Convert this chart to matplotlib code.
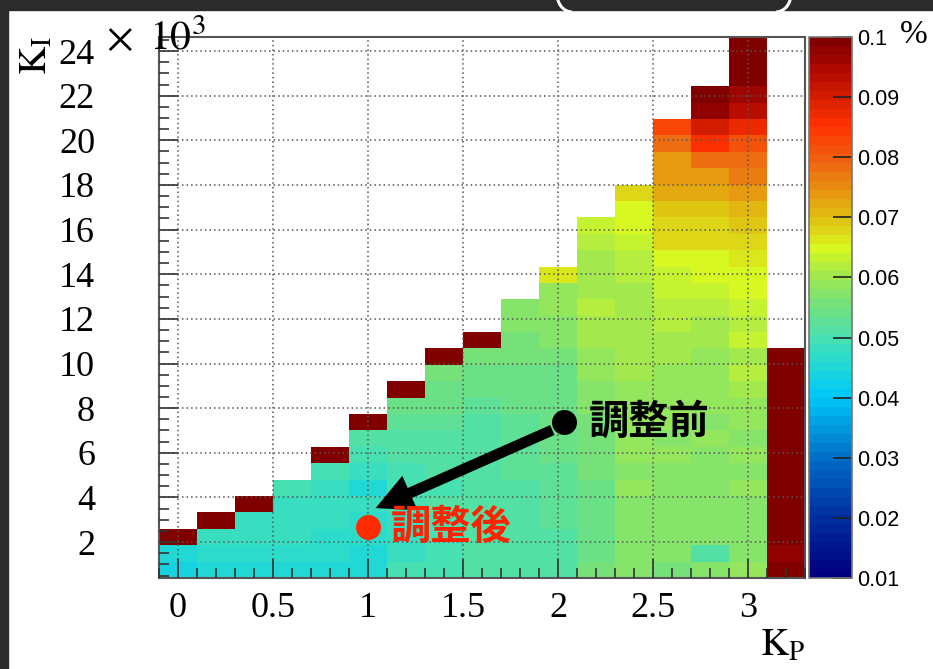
import numpy as np
import matplotlib
matplotlib.use('Agg')
import matplotlib.pyplot as plt
from matplotlib.colors import LinearSegmentedColormap, Normalize
from matplotlib.patches import Rectangle, Arc
from matplotlib.ticker import MultipleLocator

plt.rcParams['mathtext.fontset'] = 'stix'

# KP bin centres, KI range (x10^3)
kp = [0.0, 0.2, 0.4, 0.6, 0.8, 1.0, 1.2, 1.4, 1.6, 1.8, 2.0, 2.2, 2.4, 2.6, 2.8, 3.0, 3.2]
ki_lo, ki_hi, n_ki = 0.39, 24.63, 33

# values per KP column, bottom -> top, in units of 0.001 %
c00 = [44, 46, 120]
c02 = [45, 47, 48, 120]
c04 = [46, 47, 48, 48, 120]
c06 = [46, 47, 48, 48, 49, 50]
c08 = [46, 47, 47, 48, 48, 49, 50, 120]
c10 = [45, 46, 47, 47, 48, 46, 48, 50, 52, 120]
c12 = [50, 49, 49, 49, 50, 50, 50, 51, 52, 53, 55, 120]
c14 = [50, 50, 50, 50, 51, 50, 51, 51, 52, 53, 54, 55, 56, 120]
c16 = [51, 51, 51, 51, 51, 51, 52, 52, 52, 52, 53, 54, 55, 56, 120]
c18 = [51, 51, 52, 52, 52, 52, 53, 53, 53, 53, 54, 54, 55, 56, 56, 57, 57]
c20 = [52, 52, 52, 53, 53, 53, 53, 54, 54, 54, 54, 54, 55, 56, 57, 57, 58, 58, 66]
c22 = [56, 55, 55, 55, 55, 55, 56, 56, 56, 56, 57, 57, 58, 59, 61, 60, 62, 60, 61, 61, 62, 63]
c24 = [57, 57, 57, 57, 57, 58, 57, 58, 58, 58, 58, 59, 60, 60, 60, 61, 61, 61, 62, 62, 63, 64, 65, 68]
c26 = [56, 57, 57, 57, 57, 57, 57, 58, 57, 58, 58, 58, 59, 60, 61, 62, 62, 63, 63, 65, 67, 68, 69,
       72, 73, 74, 78, 83]
c28 = [57, 52, 57, 57, 57, 57, 57, 57, 58, 57, 58, 58, 59, 59, 61, 61, 62, 63, 65, 65, 67, 67, 69,
       72, 73, 78, 85, 90, 97, 102]
c30 = [58, 57, 57, 57, 57, 58, 57, 58, 57, 58, 59, 60, 62, 61, 63, 62, 63, 65, 65, 66, 68, 69, 71,
       74, 76, 78, 81, 87, 93, 96, 105, 110, 110]
c32 = [110, 97, 110, 110, 110, 110, 110, 110, 110, 110, 110, 110, 110, 110]
columns = [c00, c02, c04, c06, c08, c10, c12, c14, c16, c18, c20, c22, c24, c26, c28, c30, c32]

before = (2.03, 7.38)
after = (1.0, 2.67)

# build the 2D histogram
z = np.full((n_ki, len(kp)), np.nan)
for j, col in enumerate(columns):
    z[:len(col), j] = np.array(col) / 1000.0

x_edges = np.append(np.array(kp) - 0.1, kp[-1] + 0.1)
y_edges = np.linspace(ki_lo, ki_hi, n_ki + 1)

# ROOT-like rainbow palette
stops = [(0.0, '#000080'), (0.111, '#0030a0'), (0.222, '#0070c8'), (0.333, '#00c8f8'),
         (0.389, '#20d8d8'), (0.444, '#48e0b0'), (0.5, '#70e080'), (0.556, '#a0e850'),
         (0.611, '#d8f820'), (0.667, '#e0c010'), (0.722, '#e89010'), (0.778, '#f06010'),
         (0.844, '#ff3000'), (0.889, '#d82000'), (0.944, '#b00800'), (1.0, '#800000')]
cmap = LinearSegmentedColormap.from_list('rootrainbow', stops, N=60)
cmap.set_over('#800000')
norm = Normalize(0.01, 0.1)

fig = plt.figure(figsize=(9.33, 6.69), dpi=100)
fig.patch.set_facecolor('white')

ax = fig.add_axes([159 / 933, 91 / 669, 646 / 933, 541 / 669])
mesh = ax.pcolormesh(x_edges, y_edges, np.ma.masked_invalid(z), cmap=cmap, norm=norm,
                     edgecolors='none', zorder=1)
ax.set_xlim(x_edges[0], x_edges[-1])
ax.set_ylim(ki_lo, ki_hi)

ax.xaxis.set_minor_locator(MultipleLocator(0.1))
ax.yaxis.set_minor_locator(MultipleLocator(0.5))
ax.set_xticks([0, 0.5, 1, 1.5, 2, 2.5, 3])
ax.set_xticklabels(['0', '0.5', '1', '1.5', '2', '2.5', '3'])
ax.set_yticks(range(2, 25, 2))
ax.set_yticklabels([str(v) for v in range(2, 25, 2)])
ax.tick_params(axis='both', which='both', direction='in', top=False, right=False,
               color='#333333', width=1.2)
ax.tick_params(axis='both', which='major', length=14)
ax.tick_params(axis='both', which='minor', length=7)
ax.tick_params(axis='x', which='major', pad=10, labelsize=26)
ax.tick_params(axis='y', which='major', pad=46, labelsize=26)
for lab in ax.get_xticklabels() + ax.get_yticklabels():
    lab.set_family('Liberation Serif')
for sp in ax.spines.values():
    sp.set_color('#555555')
    sp.set_linewidth(1.5)

ax.set_axisbelow(False)
ax.grid(True, which='major', color='#555555', linestyle=(0, (1, 2)), linewidth=1.1, zorder=2)

# annotation: before -> after
ax.annotate('', xy=(1.04, 3.52), xytext=(1.97, 7.02),
            arrowprops=dict(arrowstyle='simple,head_length=2.7,head_width=2.7,tail_width=0.78',
                            mutation_scale=10, color='black', lw=0, shrinkA=0, shrinkB=0),
            zorder=4)
ax.plot(*before, 'o', color='black', markersize=17, zorder=5)
ax.plot(*after, 'o', color='#ff2a00', markersize=17, zorder=5)
ax.text(2.16, before[1], '調整前', color='black', fontsize=29, fontweight='bold',
        family=['Noto Sans CJK JP', 'DejaVu Sans'], va='center', ha='left', zorder=5)
ax.text(1.12, after[1], '調整後', color='#ff2200', fontsize=29, fontweight='bold',
        family=['Noto Sans CJK JP', 'DejaVu Sans'], va='center', ha='left', zorder=5)

# colour bar
cax = fig.add_axes([809 / 933, 91 / 669, 43 / 933, 541 / 669])
cb = fig.colorbar(mesh, cax=cax, extend='neither')
cb.set_ticks([0.01, 0.02, 0.03, 0.04, 0.05, 0.06, 0.07, 0.08, 0.09, 0.1])
cb.set_ticklabels(['0.01', '0.02', '0.03', '0.04', '0.05', '0.06', '0.07', '0.08', '0.09', '0.1'])
cax.tick_params(direction='in', length=14, width=1.2, color='#222222', labelsize=15.5, pad=4)
for lab in cax.get_yticklabels():
    lab.set_family('Liberation Sans')
cb.outline.set_edgecolor('#777777')
cb.outline.set_linewidth(1.2)

# axis titles
fig.text(36 / 933, 1 - 55 / 669, r'$\mathrm{K}_{\mathrm{I}}$', rotation=90, fontsize=28,
         ha='center', va='center')
fig.text(106 / 933, 1 - 50 / 669, r'$\times$', fontsize=30, ha='left', va='baseline')
fig.text(149 / 933, 1 - 50 / 669, r'$10^{3}$', fontsize=30, ha='left', va='baseline')
fig.text(805 / 933, 1 - 645 / 669, r'$\mathrm{K}_{\mathrm{P}}$', fontsize=28, ha='right',
         va='center')
fig.text(914 / 933, 1 - 35 / 669, '%', fontsize=24, family='Liberation Serif',
         ha='center', va='center')

# dark screenshot border with the bottom of a cut-off title
fig.patches.append(Rectangle((0, 1 - 10 / 669), 1, 10 / 669, transform=fig.transFigure,
                             color='#2b2b2b', zorder=10))
fig.patches.append(Rectangle((0, 0), 8 / 933, 1, transform=fig.transFigure,
                             color='#2b2b2b', zorder=10))
fig.patches.append(Arc((572 / 933, 1 + 6 / 669), 30 / 933, 36 / 669, theta1=180, theta2=270,
                       transform=fig.transFigure, color='white', lw=2.2, zorder=11))
fig.patches.append(Arc((776 / 933, 1 + 6 / 669), 30 / 933, 36 / 669, theta1=270, theta2=360,
                       transform=fig.transFigure, color='white', lw=2.2, zorder=11))

fig.savefig('out.png', dpi=100)
